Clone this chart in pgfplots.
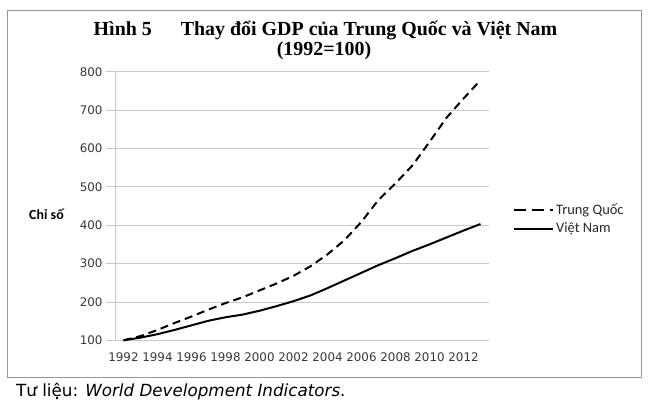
\documentclass[border=0pt]{standalone}
\usepackage{pgfplots}
\pgfplotsset{compat=1.18}
\usepackage{fontspec}
\setmainfont{Liberation Serif}
\newfontfamily\dejavu{DejaVu Sans}
\newfontfamily\carlito{Carlito}
\definecolor{gridgray}{RGB}{200,200,200}
\definecolor{framegray}{RGB}{150,150,150}
\begin{document}
\begin{tikzpicture}[x=1bp,y=1bp]
\begin{axis}[
  at={(0bp,0bp)}, anchor=south west,
  scale only axis,
  width=374bp, height=268.6bp,
  xmin=1991.5, xmax=2013.5,
  ymin=100, ymax=800,
  xtick={1992,1994,...,2012},
  ytick={100,200,...,800},
  /pgf/number format/1000 sep={},
  /pgf/number format/assume math mode=true,
  tick label style={font=\dejavu\fontsize{11.9}{12}\selectfont, text=black!78},
  axis x line*=bottom, axis y line*=left,
  axis line style={gridgray, line width=0.8bp, -},
  ymajorgrids, grid style={gridgray, line width=0.8bp},
  tick align=outside,
  major tick length=9bp,
  ytick style={gridgray, line width=0.8bp},
  xtick style={draw=none},
  clip=false,
  legend style={draw=none, fill=none, at={(1.064,0.452)}, anchor=west,
    font=\carlito\fontsize{14.5}{15}\selectfont, row sep=3bp,
    inner sep=0pt, text=black!85},
  legend cell align=left,
  legend image code/.code={\path (0bp,0bp) -- (39bp,0bp);\draw[#1] (0bp,0bp) -- (34bp,0bp);},
]
\addlegendimage{black, line width=2bp, dash pattern=on 12bp off 6bp}
\addlegendentry{Trung Quốc}
\addlegendimage{black, line width=2bp}
\addlegendentry{Việt Nam}
\addplot[black, line width=2bp, dash pattern=on 8bp off 5bp, forget plot] coordinates {
(1992,100) (1993,111) (1994,127) (1995,145) (1996,162) (1997,180)
(1998,197) (1999,212) (2000,230) (2001,248) (2002,268) (2003,293)
(2004,324) (2005,361) (2006,409) (2007,466) (2008,509) (2009,556)
(2010,617) (2011,680) (2012,730) (2013,778)};
\addplot[black, line width=2bp, forget plot] coordinates {
(1992,100) (1993,107) (1994,116) (1995,127) (1996,139) (1997,151)
(1998,160) (1999,167) (2000,177) (2001,189) (2002,202) (2003,217)
(2004,236) (2005,256) (2006,276) (2007,296) (2008,314) (2009,333)
(2010,350) (2011,368) (2012,386) (2013,403)};
\end{axis}
\draw[framegray, line width=0.8bp] (-108,330.3) rectangle (526,-36.7);
\node[anchor=base, font=\bfseries\fontsize{20}{22}\selectfont] at (210.5,305.3) {Hình 5\hspace{29bp}Thay đổi GDP của Trung Quốc và Việt Nam};
\node[anchor=base, font=\bfseries\fontsize{20}{22}\selectfont] at (209,285.3) {(1992=100)};
\node[font=\carlito\bfseries\fontsize{14}{15}\selectfont] at (-68.5,126.3) {Chỉ số};
\node[anchor=west, inner sep=0pt, font=\dejavu\fontsize{16.8}{18}\selectfont] at (-99,-51.4) {Tư liệu: \textit{World Development Indicators}.};
\pgfresetboundingbox
\path (-115,-70.7) rectangle (539,340.3);
\end{tikzpicture}
\end{document}
